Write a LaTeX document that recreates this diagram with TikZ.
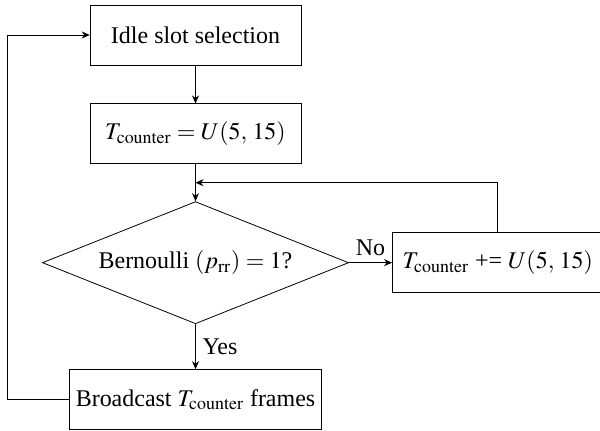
\documentclass[tikz,border=0pt]{standalone}
\usepackage{amsmath}
\usepackage{mathptmx}
\usepackage{fontspec}
\setmainfont{Liberation Serif}
\usepackage{tikz}
\usetikzlibrary{positioning,shapes.geometric,calc,arrows.meta}

\begin{document}
\begin{tikzpicture}[
        font=\fontsize{12}{14}\selectfont,
        block/.style={draw, minimum width=3.71cm, minimum height=1.056cm, align=center},
        decision/.style={draw, diamond, aspect=2.5, inner sep=0pt, minimum width=5.39cm, minimum height=2.15cm, align=center},
        arrow/.style={-{Stealth[length=4pt,width=3.5pt]}}
    ]
    \useasboundingbox (0,0) rectangle (10.56,-7.568);

    % main column
    \node[block] (idle) at (3.441,-0.616) {Idle slot selection};
    \node[block, below=0.669cm of idle] (tinit) {$T_{\mathrm{counter}} = U(5,\,15)$};
    \node[decision, below=0.651cm of tinit] (bern) {Bernoulli $(p_{\mathrm{rr}}) = 1$?};
    \node[block, below=0.792cm of bern] (bcast) {Broadcast $T_{\mathrm{counter}}$ frames};

    % right branch
    \node[block, right=0.757cm of bern] (tinc) {$T_{\mathrm{counter}}$ += $U(5,\,15)$};

    % merge point
    \coordinate (merge) at ($(tinit.south)!0.5!(bern.north)$);

    % arrows
    \draw[arrow] (idle) -- (tinit);
    \draw[arrow] (tinit) -- (bern);
    \draw[arrow] (bern) -- node[above, pos=0.5] {No} (tinc);
    \draw[arrow] (bern) -- node[right, pos=0.5] {Yes} (bcast);
    \draw[arrow] (tinc.north) |- (merge);
    \draw[arrow] (bcast.west) -- ++(-1.074,0) |- (idle.west);

\end{tikzpicture}
\end{document}
